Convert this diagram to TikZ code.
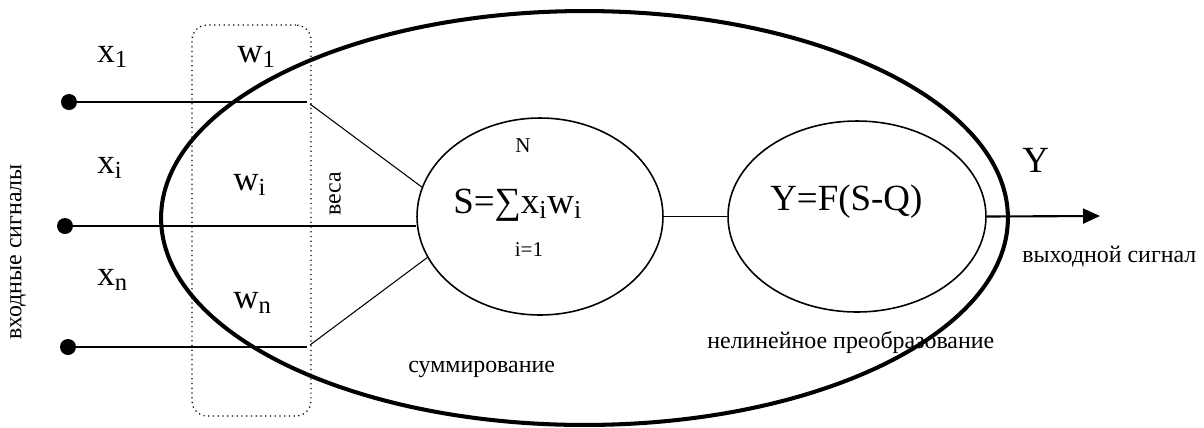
\documentclass[tikz,border=0pt]{standalone}
\usepackage{fontspec}
\setmainfont{Liberation Serif}
\usetikzlibrary{arrows.meta,shapes.geometric}
\newcommand{\lo}[1]{\textsubscript{#1}}

\begin{document}
\begin{tikzpicture}[x=0.02cm,y=-0.02cm,
    dot/.style={circle,fill,inner sep=0,minimum size=0.32cm},
    wire/.style={line width=1.2pt},
    thin/.style={line width=0.6pt},
    oval/.style={ellipse,draw,line width=0.9pt,inner sep=0},
    big/.style={font=\fontsize{20}{20}\selectfont,inner sep=0},
    huge/.style={font=\fontsize{21}{21}\selectfont,inner sep=0},
    small/.style={font=\fontsize{13.6}{14}\selectfont,inner sep=0},
    tiny/.style={font=\fontsize{12}{12}\selectfont,inner sep=0}]
  \useasboundingbox (0,0) rectangle (1204,427);
  \node[draw,dotted,line width=0.7pt,rounded corners=0.3cm,inner sep=0,
        minimum width=2.38cm,minimum height=7.82cm] (weights) at (251.5,220.5) {};
  \node[oval,minimum width=4.92cm,minimum height=3.94cm] (sum) at (540,216.5) {};
  \node[oval,minimum width=5.16cm,minimum height=3.82cm] (act) at (857,216.5) {};
  \node[dot] (in1) at (69,102) {};
  \node[dot] (in2) at (65,226) {};
  \node[dot] (inn) at (68,347) {};
  \coordinate (e1) at (307,102);
  \coordinate (en) at (307,347);
  \coordinate (s1) at (310,104);
  \coordinate (sn) at (310,345);
  \coordinate (out) at (1100,216);
  \draw[wire] (in1) -- (e1);
  \draw[wire] (in2) -- (in2 -| sum.west);
  \draw[wire] (inn) -- (en);
  \draw[thin] (s1) -- (sum.166);
  \draw[thin] (sn) -- (sum.200);
  \draw[thin] (sum.east) -- (act.west);
  \draw[wire,-{Triangle[length=0.34cm,width=0.3cm]}] (act.east) -- (out);
  \node[big,anchor=base west] (x1) at (97,62) {x\lo{1}};
  \node[big,anchor=base west] (w1) at (237,62) {w\lo{1}};
  \node[big,anchor=base west] (xi) at (97,173) {x\lo{i}};
  \node[big,anchor=base west] (wi) at (233,190) {w\lo{i}};
  \node[big,anchor=base west] (xn) at (97,285) {x\lo{n}};
  \node[big,anchor=base west] (wn) at (233,308) {w\lo{n}};
  \node[small,rotate=90] (vesa) at (335,194) {веса};
  \node[small,rotate=90] (inlabel) at (18,252) {входные сигналы};
  \node[tiny] (upper) at (523,146) {N};
  \node[huge,anchor=base west] (formula) at (453,213) {S=∑x\lo{i}w\lo{i}};
  \node[tiny] (lower) at (529,250) {i=1};
  \node[small,anchor=base west] (sumlabel) at (408,372) {суммирование};
  \node[huge,anchor=base west] (transfer) at (770,210) {Y=F(S-Q)};
  \node[small,anchor=base west] (actlabel) at (707,348) {нелинейное преобразование};
  \node[huge,anchor=base west] (y) at (1022,172) {Y};
  \node[small,anchor=base west] (outlabel) at (1022,262) {выходной сигнал};
  \node[ellipse,draw,line width=2.3pt,inner sep=0,
        minimum width=16.94cm,minimum height=8.28cm] (neuron) at (584.5,218) {};
\end{tikzpicture}
\end{document}
